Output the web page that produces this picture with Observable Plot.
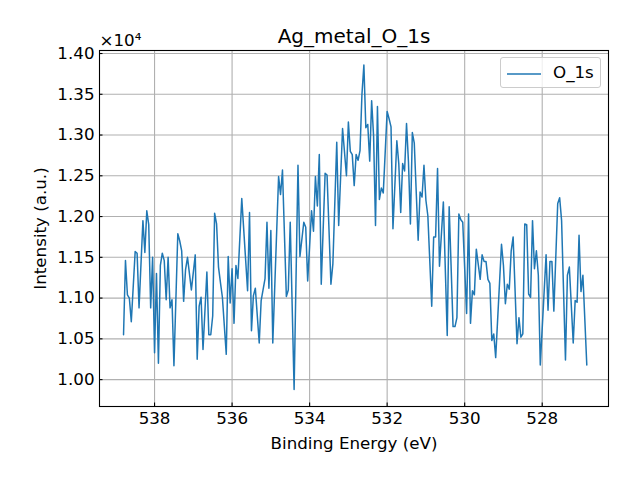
<!DOCTYPE html>
<html><head><meta charset="utf-8">
<script src="https://cdn.jsdelivr.net/npm/d3@7"></script>
<script src="https://cdn.jsdelivr.net/npm/@observablehq/plot@0.6"></script>
<style>
body{margin:0;background:#fff;}
#wrap{position:relative;width:640px;height:480px;font-family:"DejaVu Sans",sans-serif;}
#legend{position:absolute;left:500px;top:57px;width:101px;height:31px;box-sizing:border-box;border:1px solid #cccccc;border-radius:3px;background:rgba(255,255,255,0.8);}
#legend svg{position:absolute;left:6px;top:14px;}
#legend span{position:absolute;left:52px;top:4px;font-size:16.7px;line-height:20px;color:#000;}
</style></head><body>
<div id="wrap"></div>
<script>
const chartTitle = "Ag_metal_O_1s";
const xLabel = "Binding Energy (eV)";
const yLabel = "Intensity (a.u.)";
const seriesName = "O_1s";
const xTicks = [538, 536, 534, 532, 530, 528];
const yTicks = [10000, 10500, 11000, 11500, 12000, 12500, 13000, 13500, 14000];

const energy = [538.80,538.75,538.70,538.65,538.60,538.50,538.45,538.40,538.30,538.25,538.20,538.15,538.10,538.05,538.00,537.95,537.90,537.85,537.80,537.75,537.70,537.65,537.60,537.55,537.50,537.40,537.35,537.30,537.25,537.20,537.15,537.05,536.95,536.90,536.85,536.80,536.75,536.65,536.60,536.55,536.50,536.45,536.40,536.35,536.30,536.25,536.15,536.10,536.05,536.00,535.95,535.90,535.85,535.75,535.60,535.55,535.50,535.45,535.40,535.30,535.25,535.15,535.10,535.05,535.00,534.95,534.80,534.75,534.70,534.60,534.55,534.50,534.40,534.30,534.25,534.15,534.10,534.05,533.95,533.90,533.85,533.80,533.75,533.70,533.60,533.55,533.45,533.40,533.30,533.25,533.15,533.05,533.00,532.95,532.90,532.85,532.80,532.75,532.70,532.65,532.60,532.55,532.50,532.45,532.40,532.35,532.30,532.25,532.20,532.15,532.10,532.00,531.95,531.90,531.85,531.75,531.70,531.65,531.60,531.55,531.50,531.45,531.40,531.35,531.30,531.20,531.15,531.10,531.05,531.00,530.95,530.85,530.80,530.75,530.70,530.65,530.55,530.45,530.40,530.30,530.25,530.20,530.15,530.10,530.05,529.95,529.90,529.85,529.80,529.75,529.70,529.60,529.55,529.50,529.45,529.40,529.35,529.30,529.25,529.20,529.05,529.00,528.95,528.90,528.85,528.80,528.75,528.65,528.60,528.55,528.50,528.45,528.40,528.35,528.30,528.25,528.20,528.15,528.10,528.05,527.90,527.85,527.80,527.75,527.70,527.60,527.55,527.50,527.40,527.35,527.30,527.20,527.15,527.10,527.05,527.00,526.95,526.85];

const intensity = [10550,11460,11040,11000,10710,11570,11550,10880,11950,11560,12070,11900,10880,11500,10330,11300,10200,11400,11550,11460,10980,11500,10880,10980,10170,11790,11700,11580,10960,11350,11500,11100,11530,10250,10900,11010,10370,11320,10550,10550,10780,12040,11910,11380,11190,11010,10310,11510,10940,11360,10690,11400,11240,12220,11090,12050,10600,11030,11120,10450,10970,11240,11930,11120,11830,10450,12490,12270,12570,11020,11100,11930,9880,12630,11510,11930,11870,11210,12070,11820,12490,12130,12760,11170,12530,12510,11170,11420,12910,11890,13080,12500,13160,12800,12760,12380,12760,12690,12810,13500,13860,13090,13130,12680,13420,12990,11890,13350,12210,12350,12290,13290,13200,13100,11850,12930,12650,12050,12650,12560,13140,12670,11910,13030,12900,11710,12300,12240,12630,12200,12010,10900,11750,11750,12590,11390,12180,10540,12120,10650,10650,10760,12030,11960,11930,10810,12030,10690,11090,11040,11600,11230,11530,11450,11450,11230,11180,10480,10560,10270,11660,11400,10930,11170,11110,11580,11750,10440,10760,10520,10560,11910,11900,11050,11010,11950,11360,11580,11280,10180,11530,10850,11450,11450,10840,12160,12230,11950,10240,11280,11380,10450,10970,10950,11770,11080,11280,10180];

const data = energy.map((e, i) => ({energy: e, intensity: intensity[i]}));

const W = 640, H = 480, mL = 99, mR = 32, mT = 50, mB = 74;
const frameW = W - mL - mR, frameH = H - mT - mB;

const chart = Plot.plot({
  width: W, height: H,
  marginLeft: mL, marginRight: mR, marginTop: mT, marginBottom: mB,
  style: {fontFamily: "'DejaVu Sans', sans-serif", fontSize: "16.7px", color: "#000", background: "#fff", overflow: "visible"},
  x: {domain: [539.42, 526.29]},
  y: {domain: [9670, 14037]},
  marks: [
    Plot.gridX(xTicks, {stroke: "#b0b0b0", strokeOpacity: 1, strokeWidth: 1.1}),
    Plot.gridY(yTicks, {stroke: "#b0b0b0", strokeOpacity: 1, strokeWidth: 1.1}),
    Plot.axisX(xTicks, {tickSize: 0, tickPadding: 6, tickFormat: d => String(d), label: xLabel, labelAnchor: "center", labelArrow: "none", labelOffset: 42}),
    Plot.axisY(yTicks, {tickSize: 0, tickPadding: 5, tickFormat: d => (d / 1e4).toFixed(2), label: yLabel, labelAnchor: "center", labelArrow: "none", labelOffset: 65}),
    Plot.ruleX(xTicks, {stroke: "#000", strokeWidth: 1.1, insetTop: frameH - 3.5}),
    Plot.ruleY(yTicks, {stroke: "#000", strokeWidth: 1.1, insetRight: frameW - 3.5}),
    Plot.line(data, {x: "energy", y: "intensity", stroke: "#1f77b4", strokeWidth: 1.5}),
    Plot.frame({stroke: "#000", strokeWidth: 1.1}),
    Plot.text([chartTitle], {frameAnchor: "top", lineAnchor: "bottom", dy: -8, fontSize: 20, fill: "#000"}),
    Plot.text(["×10⁴"], {frameAnchor: "top-left", textAnchor: "start", lineAnchor: "bottom", dy: -5, fontSize: 16.7, fill: "#000"})
  ]
});

const wrap = document.getElementById("wrap");
wrap.appendChild(chart);
const legend = document.createElement("div");
legend.id = "legend";
legend.innerHTML = `<svg width="34" height="4"><line x1="0" y1="2" x2="34" y2="2" stroke="#1f77b4" stroke-width="1.5"/></svg><span>${seriesName}</span>`;
wrap.appendChild(legend);
</script>
</body></html>
